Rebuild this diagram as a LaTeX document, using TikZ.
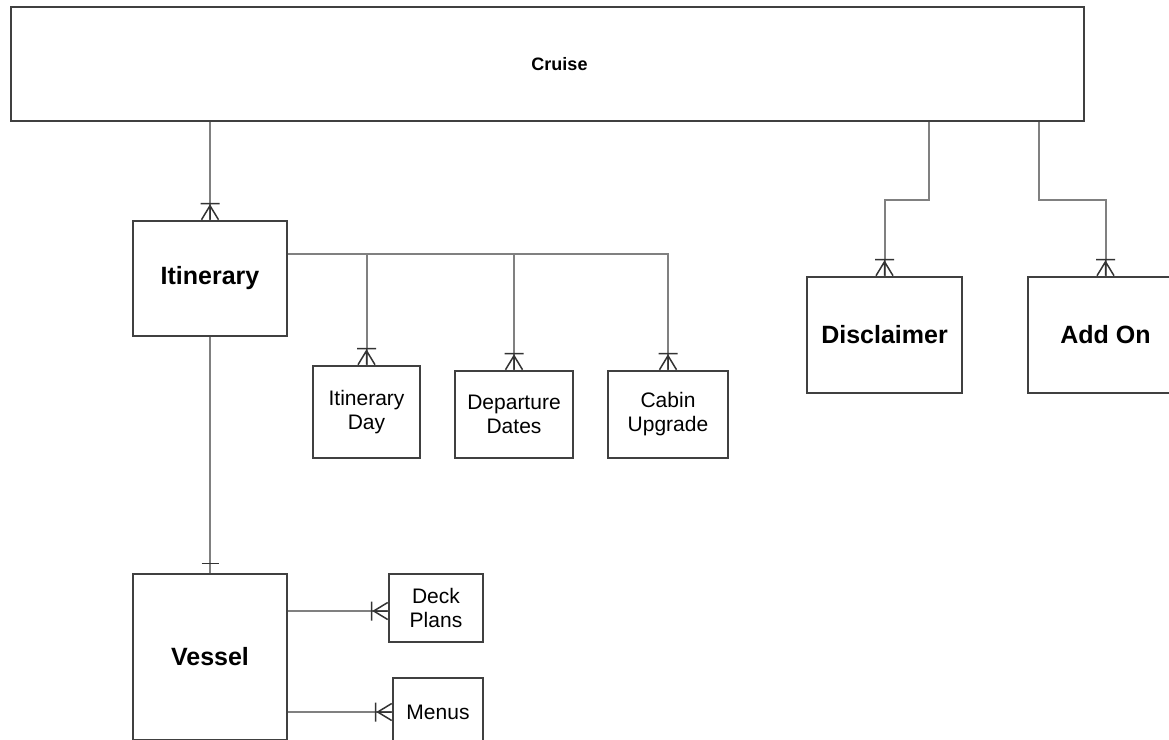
\documentclass[tikz,border=0pt]{standalone}
\usepackage{fontspec}
\setmainfont{Liberation Sans}
\usetikzlibrary{calc}
\definecolor{boxc}{HTML}{404040}
\definecolor{linec}{HTML}{808080}
\definecolor{tipc}{HTML}{333333}
\tikzset{
  ent/.style={draw=boxc, line width=2.6pt, fill=white, rectangle, inner sep=0pt, align=center},
  big/.style={font=\fontsize{25}{30}\selectfont\bfseries},
  small/.style={font=\fontsize{21}{24}\selectfont},
  conn/.style={draw=linec, line width=2pt},
  tip/.style={draw=tipc, line width=1.5pt},
  crowN/.pic={\draw[tip] (-8.5,0) -- (0,-14) -- (8.5,0) (0,-14) -- (0,0) (-9.5,-16) -- (9.5,-16);},
  crowW/.pic={\draw[tip] (0,-8.5) -- (-14,0) -- (0,8.5) (-14,0) -- (0,0) (-16,-9.5) -- (-16,9.5);},
  barN/.pic={\draw[tip] (-8.5,-9) -- (8.5,-9);}
}
\begin{document}
\begin{tikzpicture}[x=1pt,y=-1pt]
\useasboundingbox (0,0) rectangle (1169,739);
\clip (0,0) rectangle (1169,739);
\fill[white] (0,0) rectangle (1169,739);
% entities
\node[ent, minimum width=1073pt, minimum height=114pt, font=\fontsize{18}{22}\selectfont\bfseries] (cruise) at (547.5,64) {\hspace*{24pt}Cruise};
\node[ent, big, minimum width=154pt, minimum height=115pt] (itin) at (210,278.5) {Itinerary};
\node[ent, big, minimum width=154pt, minimum height=166pt] (vessel) at (210,657) {Vessel};
\node[ent, small, minimum width=107pt, minimum height=92pt] (iday) at (366.5,412) {Itinerary\\Day};
\node[ent, small, minimum width=118pt, minimum height=87pt] (ddates) at (514,414.5) {Departure\\Dates};
\node[ent, small, minimum width=120pt, minimum height=87pt] (cabin) at (668,414.5) {Cabin\\Upgrade};
\node[ent, big, minimum width=155pt, minimum height=116pt] (disc) at (884.5,335) {Disclaimer};
\node[ent, big, minimum width=155pt, minimum height=116pt] (addon) at (1105.5,335) {Add On};
\node[ent, small, minimum width=94pt, minimum height=68pt] (deck) at (436,608) {Deck\\Plans};
\node[ent, small, minimum width=90pt, minimum height=68pt] (menus) at (438,712) {Menus};
% connectors
\draw[conn] (itin.north |- cruise.south) -- (itin.north);
\pic at (itin.north) {crowN};
\coordinate (ib) at ($(itin.north east)+(0,34)$);
\draw[conn] (ib) -| (iday.north);
\draw[conn] (ib) -| (ddates.north);
\draw[conn] (ib) -| (cabin.north);
\pic at (iday.north) {crowN};
\pic at (ddates.north) {crowN};
\pic at (cabin.north) {crowN};
\coordinate (cd) at ($(cruise.south west)+(919,0)$);
\draw[conn] (cd) -- ++(0,78) -| (disc.north);
\pic at (disc.north) {crowN};
\coordinate (ca) at ($(cruise.south west)+(1029,0)$);
\draw[conn] (ca) -- ++(0,78) -| (addon.north);
\pic at (addon.north) {crowN};
\draw[conn] (itin.south) -- (vessel.north);
\pic at (vessel.north) {barN};
\coordinate (dk) at ($(deck.west)+(0,3)$);
\draw[conn] (dk -| vessel.east) -- (dk);
\pic at (dk) {crowW};
\draw[conn] (menus.west -| vessel.east) -- (menus.west);
\pic at (menus.west) {crowW};
\end{tikzpicture}
\end{document}
